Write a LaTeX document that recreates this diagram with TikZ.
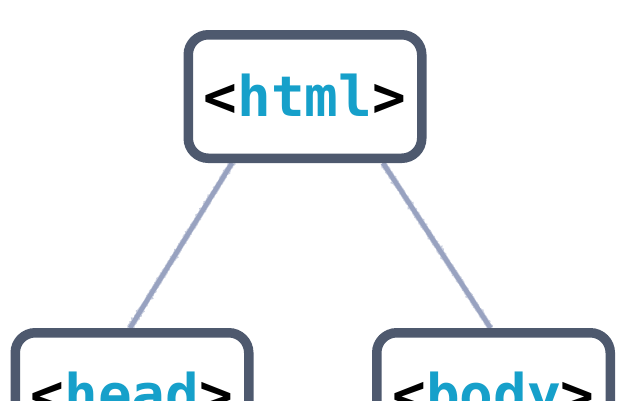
\documentclass[tikz,border=0pt]{standalone}
\usepackage{fontspec}
\setmonofont{DejaVu Sans Mono}
\usetikzlibrary{backgrounds,decorations.pathmorphing}
\definecolor{boxborder}{RGB}{78,89,110}
\definecolor{tagblue}{RGB}{22,160,202}
\definecolor{linkgray}{RGB}{152,162,192}
\tikzset{
  tagbox/.style={draw=boxborder, fill=white, line width=9.5pt, rounded corners=20pt,
    minimum width=233.5pt, minimum height=123.5pt, inner sep=0pt,
    text height=40pt, text depth=0pt,
    font=\fontsize{56}{60}\selectfont\ttfamily\bfseries},
  link/.style={draw=linkgray, line width=4.5pt},
  linkfuzz/.style={draw=linkgray, line width=5.5pt, opacity=0.55,
    decorate, decoration={random steps, segment length=0.8pt, amplitude=0.45pt}}
}
\newcommand{\tagtext}[1]{<\textcolor{tagblue}{#1}>}
\begin{document}
\begin{tikzpicture}[x=1pt, y=-1pt]
  \useasboundingbox (0,0) rectangle (629,400);
  \clip (0,0) rectangle (629,400);
  \node[tagbox] (html) at (305,96.5) {\tagtext{html}};
  \node[tagbox] (head) at (132,394.5) {\tagtext{head}};
  \node[tagbox] (body) at (493.5,394.5) {\tagtext{body}};
  \begin{scope}[on background layer]
    \draw[linkfuzz] ([xshift=-73pt]html.south) -- ([xshift=-2pt]head.north);
    \draw[linkfuzz] ([xshift=78pt]html.south) -- ([xshift=-3pt]body.north);
    \draw[link] ([xshift=-73pt]html.south) -- ([xshift=-2pt]head.north);
    \draw[link] ([xshift=78pt]html.south) -- ([xshift=-3pt]body.north);
  \end{scope}
\end{tikzpicture}
\end{document}
